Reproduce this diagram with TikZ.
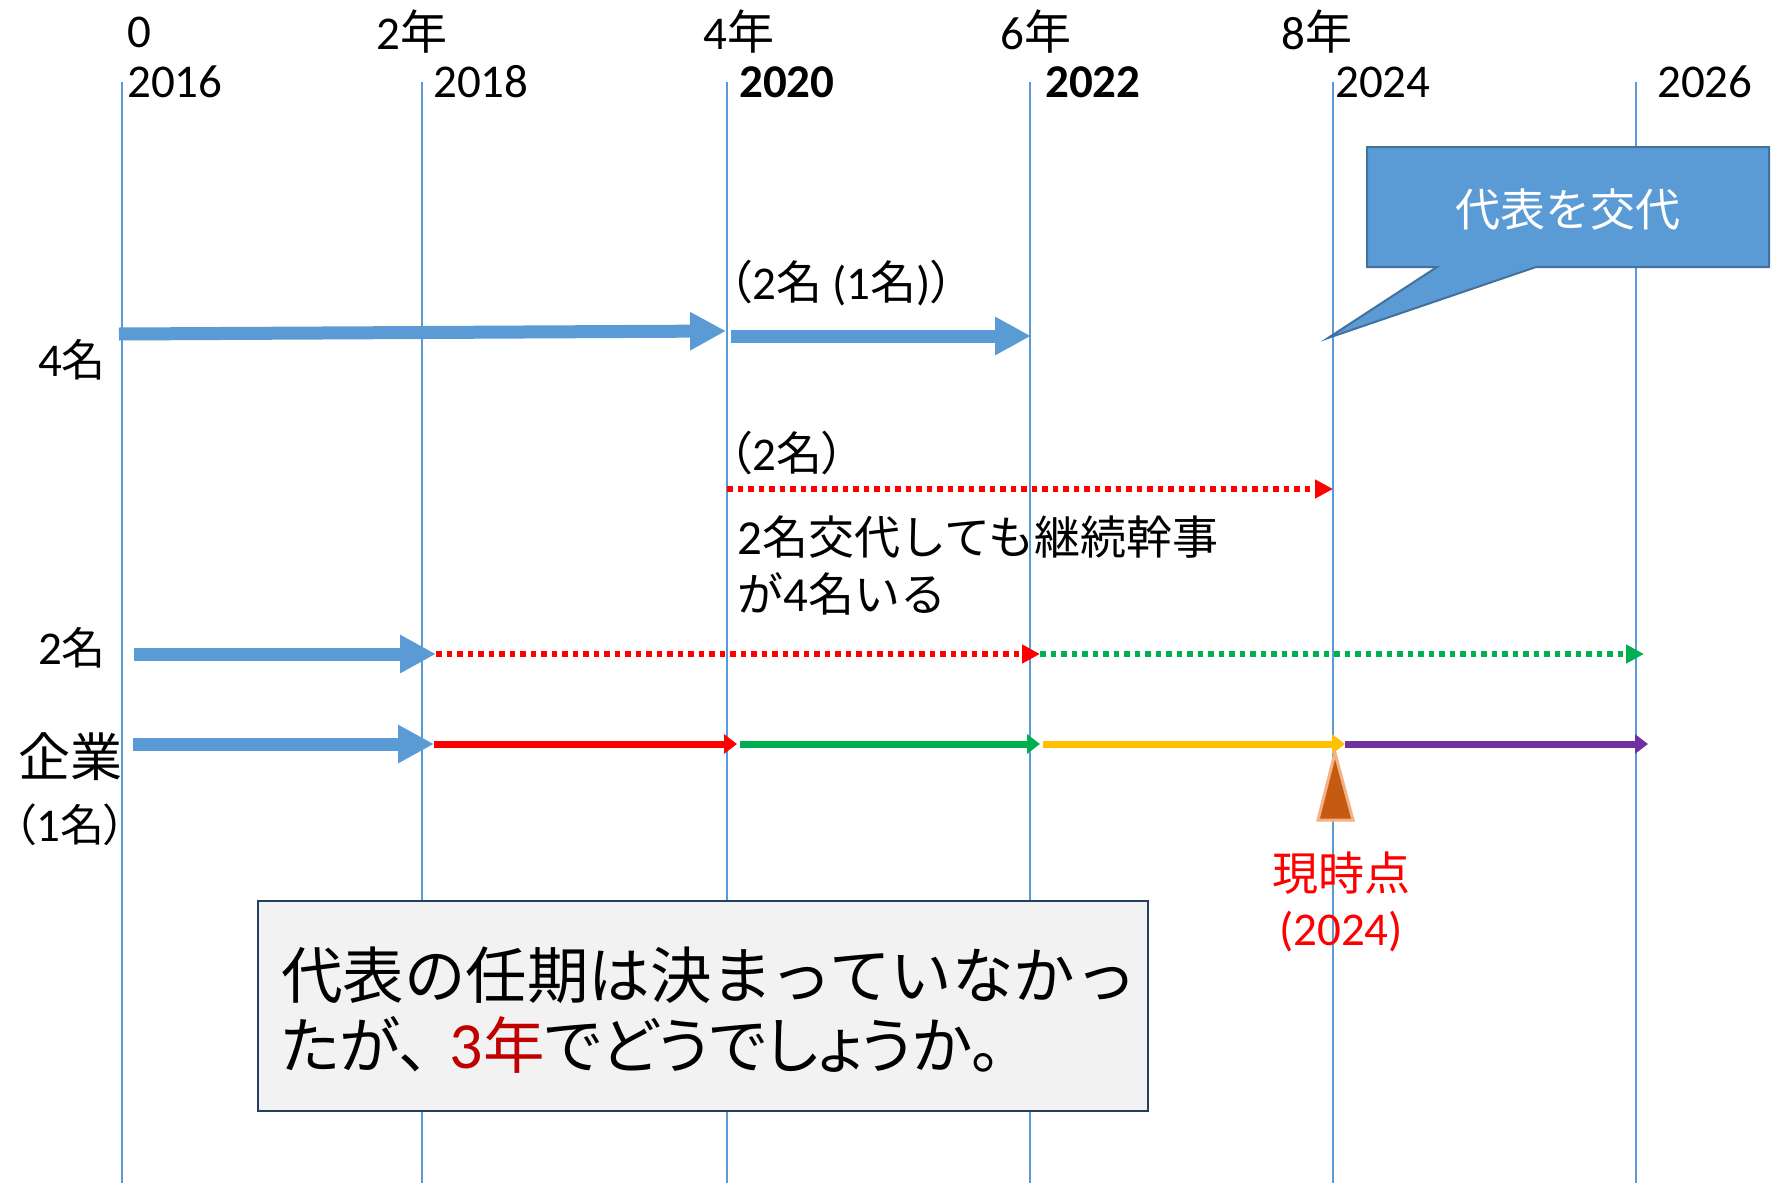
\documentclass[tikz,border=0pt]{standalone}
\usepackage{fontspec}
\setmainfont{Carlito}
\newfontfamily\jp{Noto Sans CJK JP}
\newfontfamily\jpp{Noto Sans CJK JP}[RawFeature=+palt]
\usetikzlibrary{arrows.meta}
\definecolor{lblue}{HTML}{5B9BD5}
\definecolor{dblue}{HTML}{41719C}
\definecolor{mygreen}{HTML}{00B050}
\definecolor{myyellow}{HTML}{FFC000}
\definecolor{mypurple}{HTML}{7030A0}
\definecolor{mydarkred}{HTML}{C00000}
\definecolor{mybrown}{HTML}{C55A11}
\definecolor{mypeach}{HTML}{F4B183}
\definecolor{boxgray}{HTML}{F2F2F2}
\definecolor{mynavy}{HTML}{243F60}
\definecolor{myred}{HTML}{FF0000}
\begin{document}
\begin{tikzpicture}[x=1pt,y=-1pt,
  gridline/.style={lblue, line width=1.2pt},
  bigarrow/.style={lblue, line width=13pt, -{Triangle[length=36pt,width=36pt]}},
  dotarrow/.style={line width=6.5pt, dash pattern=on 5.5pt off 5pt, -{Triangle[length=18pt,width=18pt]}},
  solarrow/.style={line width=7pt, -{Triangle[length=13pt,width=19pt]}},
  lab/.style={inner sep=0pt, font=\fontsize{47}{52}\selectfont},
  jlab/.style={inner sep=0pt, font=\jp\fontsize{46}{52}\selectfont},
  bigtxt/.style={inner sep=0pt, anchor=west, font=\jp\fontsize{61.5}{66}\selectfont}
]
\useasboundingbox (0,0) rectangle (1777,1183);
\fill[white] (0,0) rectangle (1777,1183);

% grid lines
\foreach \x/\n in {122/g0,422/g1,727/g2,1030/g3,1333/g4,1636/g5}{
  \coordinate (\n t) at (\x,82);
  \coordinate (\n b) at (\x,1183);
  \draw[gridline] (\n t) -- (\n b);
}

% top labels
\node[lab, anchor=west] (y0) at (127,32) {0};
\node[lab, anchor=west] (y2) at (376,32) {2{\jp 年}};
\node[lab, anchor=west] (y4) at (703,32) {4{\jp 年}};
\node[lab, anchor=west] (y6) at (1000,32) {6{\jp 年}};
\node[lab, anchor=west] (y8) at (1281,32) {8{\jp 年}};

\node[lab, anchor=west] (d16) at (127,82) {2016};
\node[lab, anchor=west] (d18) at (433,82) {2018};
\node[lab, anchor=west] (d20) at (739,82) {\bfseries 2020};
\node[lab, anchor=west] (d22) at (1045,82) {\bfseries 2022};
\node[lab, anchor=west] (d24) at (1335,82) {2024};
\node[lab, anchor=west] (d26) at (1657,82) {2026};

% row labels
\node[jlab, font=\jp\fontsize{44}{50}\selectfont] (r4) at (72,360) {{\rmfamily\fontsize{47}{50}\selectfont 4}名};
\node[jlab, font=\jp\fontsize{44}{50}\selectfont] (r2) at (72,648) {{\rmfamily\fontsize{47}{50}\selectfont 2}名};
\node[jlab, font=\jp\fontsize{52}{58}\selectfont] (rk) at (70,757) {企業};
\node[jlab, font=\jp\fontsize{44}{50}\selectfont, anchor=west] (rk1) at (14,825) {{\jpp （}{\rmfamily\fontsize{47}{50}\selectfont 1}名{\jpp ）}};

% row 1
\coordinate (a1s) at (119,334);
\coordinate (a1e) at (726,331);
\draw[bigarrow] (a1s) -- (a1e);
\coordinate (a2s) at (731,336);
\coordinate (a2e) at (1031,336);
\draw[bigarrow] (a2s) -- (a2e);
\node[jlab, anchor=west] (p1) at (729,283) {{\jpp （}{\rmfamily\fontsize{47}{50}\selectfont 2}名 {\rmfamily\fontsize{47}{50}\selectfont (1}名{\rmfamily\fontsize{47}{50}\selectfont )}{\jpp ）}};

\node[jlab, anchor=west] (p2) at (729,453) {{\jpp （}{\rmfamily\fontsize{47}{50}\selectfont 2}名{\jpp ）}};
\coordinate (d1s) at (727,489);
\coordinate (d1e) at (1333,489);
\draw[dotarrow, myred] (d1s) -- (d1e);
\node[jlab, anchor=west, font=\jp\fontsize{46}{52}\selectfont] (n1) at (737,537) {{\rmfamily\fontsize{49}{52}\selectfont 2}名交代しても継続幹事};
\node[jlab, anchor=west, font=\jp\fontsize{46}{52}\selectfont] (n2) at (737,594) {が{\rmfamily\fontsize{49}{52}\selectfont 4}名いる};

% row 2
\coordinate (b1s) at (134,654);
\coordinate (b1e) at (436,654);
\draw[bigarrow] (b1s) -- (b1e);
\coordinate (b2e) at (1040,654);
\draw[dotarrow, myred] (b1e) -- (b2e);
\coordinate (b3e) at (1644,654);
\draw[dotarrow, mygreen] (b2e) -- (b3e);

% row 3
\coordinate (c1s) at (133,744);
\coordinate (c1e) at (434,744);
\draw[bigarrow] (c1s) -- (c1e);
\coordinate (c2e) at (737,744);
\draw[solarrow, myred] (c1e) -- (c2e);
\coordinate (c3s) at (740,744);
\coordinate (c3e) at (1040,744);
\draw[solarrow, mygreen] (c3s) -- (c3e);
\coordinate (c4s) at (1043,744);
\coordinate (c4e) at (1345,744);
\draw[solarrow, myyellow] (c4s) -- (c4e);
\coordinate (c5e) at (1648,744);
\draw[solarrow, mypurple] (c4e) -- (c5e);

% current marker
\path[fill=mybrown, draw=mypeach, line width=3pt, line join=miter] (1335,753) -- (1353,820) -- (1318,820) -- cycle;
\node[jlab, text=myred] (now) at (1341,873) {現時点};
\node[lab, text=myred] (now2) at (1341,932) {(2024)};

% callout
\path[draw=dblue, fill=lblue, line width=2pt] (1367,147) -- (1769,147) -- (1769,267) -- (1536,267) -- (1328,338) -- (1437,267) -- (1367,267) -- cycle;
\node[jlab, text=white, font=\jp\fontsize{45}{50}\selectfont] (cb) at (1568,209) {代表を交代};

% bottom box
\node[draw=mynavy, fill=boxgray, line width=2.5pt, minimum width=890pt, minimum height=210pt, inner sep=0pt] (box) at (703,1006) {};
\node[bigtxt] (t1) at (281,975) {代表の任期は決まっていなかっ};
\node[bigtxt, font=\jpp\fontsize{61.5}{66}\selectfont] (t2) at (281,1045) {たが、\kern20pt{\color{mydarkred}{\rmfamily\fontsize{66}{66}\selectfont 3}年}でどうでしょうか。};
\end{tikzpicture}
\end{document}
